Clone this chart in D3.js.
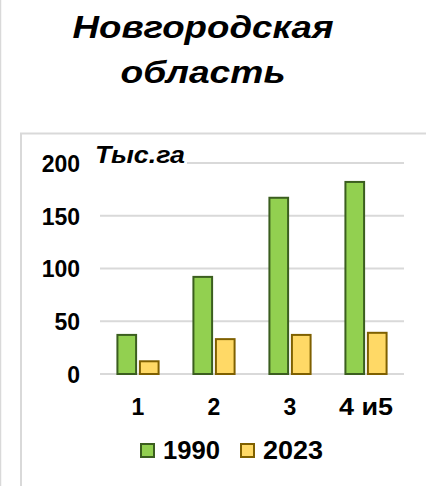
<!DOCTYPE html>
<html><head><meta charset="utf-8">
<script src="https://cdn.jsdelivr.net/npm/d3@7"></script>
<style>html,body{margin:0;padding:0;background:#fff;overflow:hidden}</style>
</head><body>
<script>
const categories = ["1", "2", "3", "4 и5"];
const seriesNames = ["1990", "2023"];
const values1990 = [38, 93, 168, 183];
const values2023 = [13, 34, 38, 40];
const yTicks = [0, 50, 100, 150, 200];
const titleLines = ["Новгородская", "область"];
const unitLabel = "Тыс.га";
const colors = {"1990": {fill: "#92d050", stroke: "#3b5e1f"}, "2023": {fill: "#ffd966", stroke: "#7f6000"}};

const W = 426, H = 486;
const svg = d3.select("body").append("svg").attr("width", W).attr("height", H);
const font = "'Liberation Sans', Arial, sans-serif";

// page border & chart box
svg.append("line").attr("x1", 0.5).attr("x2", 0.5).attr("y1", 0).attr("y2", H).attr("stroke", "#d9d9d9").attr("stroke-width", 1.5);
svg.append("path").attr("d", `M21,${H} V133.5 H${W}`).attr("fill", "none").attr("stroke", "#d9d9d9").attr("stroke-width", 2);

// title
const titleLen = [261, 165];
svg.append("g").selectAll("text").data(titleLines).join("text")
  .attr("x", 203).attr("y", (d, i) => 38 + i * 45)
  .attr("text-anchor", "middle")
  .attr("textLength", (d, i) => titleLen[i]).attr("lengthAdjust", "spacingAndGlyphs")
  .attr("font-family", font).attr("font-weight", "bold").attr("font-style", "italic")
  .attr("font-size", 31).attr("fill", "#000").text(d => d);

const x = d3.scaleBand().domain(categories).range([100, 404]).paddingInner(0).paddingOuter(0);
const xs = d3.scaleBand().domain(seriesNames).range([0, x.bandwidth()]).paddingInner(0.08).paddingOuter(0.73);
const y = d3.scaleLinear().domain([0, 200]).range([374, 163]);

// gridlines
svg.append("g").selectAll("line").data(yTicks).join("line")
  .attr("x1", 100).attr("x2", 404)
  .attr("y1", d => y(d)).attr("y2", d => y(d))
  .attr("stroke", "#d9d9d9").attr("stroke-width", 2);

// y axis labels
const yAxis = d3.axisLeft(y).tickValues(yTicks).tickSize(0).tickPadding(0);
const gy = svg.append("g").attr("transform", "translate(80,0)").call(yAxis);
gy.select(".domain").remove();
gy.selectAll("text").attr("font-family", font).attr("font-weight", "bold").attr("font-size", 23).attr("fill", "#000").attr("dy", "0.36em");

// unit label with white background
svg.append("rect").attr("x", 92).attr("y", 145).attr("width", 95).attr("height", 24).attr("fill", "#fff");
svg.append("text").attr("x", 95).attr("y", 163).attr("textLength", 90).attr("lengthAdjust", "spacingAndGlyphs")
  .attr("font-family", font).attr("font-weight", "bold").attr("font-style", "italic").attr("font-size", 23).attr("fill", "#000").text(unitLabel);

// bars
const data = categories.map((c, i) => ({c, vals: [{s: "1990", v: values1990[i]}, {s: "2023", v: values2023[i]}]}));
const groups = svg.append("g").selectAll("g").data(data).join("g").attr("transform", d => `translate(${x(d.c)},0)`);
groups.selectAll("rect").data(d => d.vals).join("rect")
  .attr("x", d => xs(d.s) + 1).attr("width", xs.bandwidth() - 2)
  .attr("y", d => y(d.v) + 1).attr("height", d => y(0) - y(d.v) - 1)
  .attr("fill", d => colors[d.s].fill).attr("stroke", d => colors[d.s].stroke).attr("stroke-width", 2);

// x axis labels
const xAxis = d3.axisBottom(x).tickSize(0).tickPadding(0);
const gx = svg.append("g").attr("transform", "translate(0,415)").call(xAxis);
gx.select(".domain").remove();
gx.selectAll("text").attr("font-family", font).attr("font-weight", "bold").attr("font-size", 23).attr("fill", "#000").attr("dy", 0)
  .filter(d => d === "4 и5").attr("textLength", 54).attr("lengthAdjust", "spacingAndGlyphs");

// legend
const legendX = [140, 240];
const legendLen = [57, 60];
const lg = svg.append("g").selectAll("g").data(seriesNames).join("g").attr("transform", (d, i) => `translate(${legendX[i]},0)`);
lg.append("rect").attr("x", 1).attr("y", 444).attr("width", 13).attr("height", 13)
  .attr("fill", d => colors[d].fill).attr("stroke", d => colors[d].stroke).attr("stroke-width", 2);
lg.append("text").attr("x", 23).attr("y", 459).attr("textLength", (d, i) => legendLen[i]).attr("lengthAdjust", "spacingAndGlyphs")
  .attr("font-family", font).attr("font-weight", "bold").attr("font-size", 25).attr("fill", "#000").text(d => d);
</script>
</body></html>
